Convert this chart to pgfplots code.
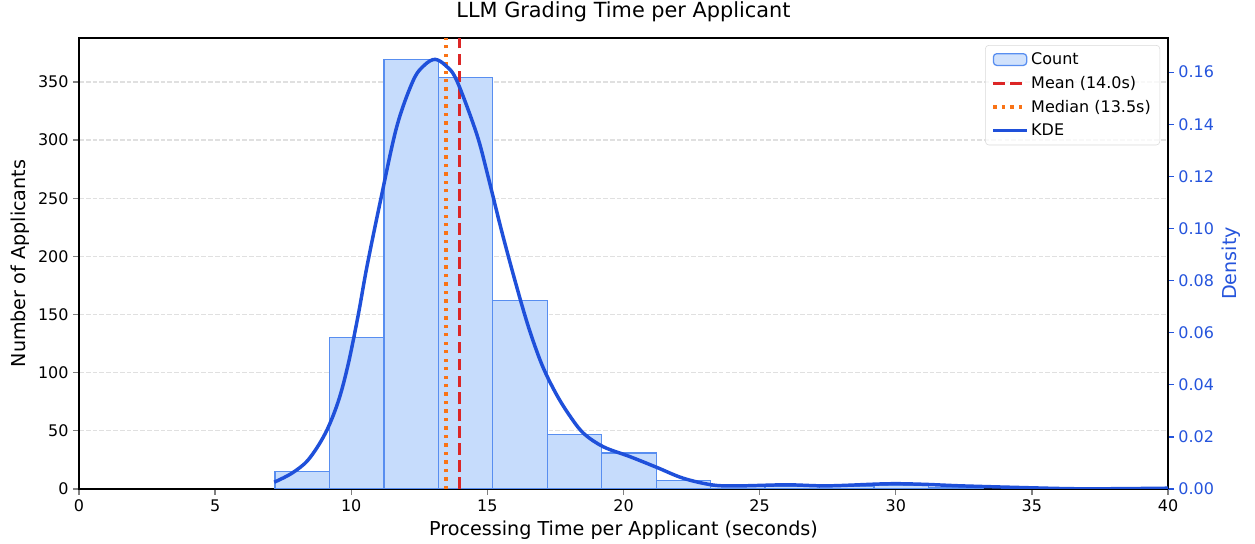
\documentclass[border=0pt]{standalone}
\usepackage{fontspec}
\setmainfont{DejaVu Sans}
\usepackage{pgfplots}
\pgfplotsset{compat=1.18}

\definecolor{barfill}{RGB}{198,220,252}
\definecolor{baredge}{RGB}{88,142,240}
\definecolor{kde}{RGB}{31,80,218}
\definecolor{meanred}{RGB}{220,38,38}
\definecolor{medorange}{RGB}{249,115,22}
\definecolor{dens}{RGB}{37,84,220}
\definecolor{gridc}{RGB}{224,224,224}

\begin{document}
\begin{tikzpicture}
\pgfplotsset{
  common/.style={
    scale only axis, width=784.1pt, height=324.7pt,
    xmin=0, xmax=40,
    tick align=outside, major tick length=4pt,
    tick style={line width=0.9pt},
    axis line style={line width=0.9pt},
    tick label style={font=\fontsize{11.5}{13}\selectfont},
    label style={font=\fontsize{13.8}{16}\selectfont},
    /pgf/number format/assume math mode=true,
  }
}
\begin{axis}[common, name=ax,
  ymin=0, ymax=387.8,
  xtick={0,5,...,40}, ytick={0,50,...,350},
  xtick pos=bottom, ytick pos=left,
  ymajorgrids, grid style={gridc, dash pattern=on 3.4pt off 1.5pt, line width=0.9pt},
  xlabel={Processing Time per Applicant (seconds)},
  ylabel={Number of Applicants},
  xlabel style={at={(axis description cs:0.5,-0.0909)}, anchor=center},
  ylabel style={at={(axis description cs:-0.0542,0.5)}, anchor=center},
]
\addplot[ybar interval, fill=barfill, draw=baredge, line width=0.9pt] coordinates {
  (7.2,15) (9.2,130) (11.2,369) (13.2,354) (15.2,162) (17.2,47) (19.2,31)
  (21.2,7) (23.2,2) (25.2,2) (27.2,2) (29.2,3) (31.2,1) (33.2,0)
};
\addplot[meanred, line width=2.3pt, dash pattern=on 8.5pt off 3.7pt] coordinates {(13.99,0) (13.99,387.8)};
\addplot[medorange, line width=2.4pt, dash pattern=on 2.4pt off 3.7pt] coordinates {(13.48,0) (13.48,387.8)};
\end{axis}

\begin{axis}[common,
  ymin=0, ymax=0.1731,
  axis x line=none, axis y line*=right,
  ytick={0,0.02,0.04,0.06,0.08,0.10,0.12,0.14,0.16},
  ytick style={dens, line width=0.9pt},
  yticklabel style={dens, /pgf/number format/.cd, fixed, fixed zerofill, precision=2},
  ylabel={Density},
  ylabel style={dens, at={(axis description cs:1.0579,0.5)}, anchor=center, rotate=0},
  legend style={at={(axis description cs:0.9927,0.9845)}, anchor=north east,
    draw=black!15, rounded corners=2.5pt, fill=white, fill opacity=0.8, text opacity=1,
    font=\fontsize{11.5}{13}\selectfont, inner xsep=4.5pt, inner ysep=3.5pt,
    row sep=2.8pt, /tikz/every even column/.append style={column sep=0pt}},
  legend cell align=left,
]
\addlegendimage{legend image code/.code={\draw[fill=barfill, draw=baredge, line width=0.9pt] (0pt,-4pt) rectangle (24pt,4.5pt);}}
\addlegendentry{Count}
\addlegendimage{legend image code/.code={\draw[meanred, line width=2.3pt, dash pattern=on 8.5pt off 3.7pt] (0pt,0pt) -- (24pt,0pt);}}
\addlegendentry{Mean (14.0s)}
\addlegendimage{legend image code/.code={\draw[medorange, line width=2.4pt, dash pattern=on 2.4pt off 3.7pt] (0pt,0pt) -- (24pt,0pt);}}
\addlegendentry{Median (13.5s)}
\addplot[kde, line width=2.5pt, smooth, tension=0.55,
  legend image code/.code={\draw[kde, line width=2.5pt] (0pt,0pt) -- (24pt,0pt);}] coordinates {
  (7.17,0.0026) (7.81,0.0060) (8.42,0.0112) (9.04,0.0212) (9.52,0.0335)
  (9.89,0.0480) (10.26,0.0670) (10.57,0.0850) (11.06,0.1100) (11.67,0.1390)
  (12.28,0.1569) (12.70,0.1628) (13.08,0.1649) (13.47,0.1625) (13.87,0.1569)
  (14.60,0.1365) (15.00,0.1210) (15.50,0.1000) (16.00,0.0805) (16.50,0.0625)
  (17.00,0.0478) (17.50,0.0370) (18.00,0.0285) (18.53,0.0214) (19.26,0.0162)
  (20.24,0.0124) (21.22,0.0083) (22.20,0.0041) (23.30,0.0015) (24.30,0.0012)
  (26.00,0.0016) (27.50,0.0012) (29.70,0.0020) (31.00,0.0018) (32.40,0.0012)
  (34.80,0.0005) (36.50,0.0001) (38.00,0.0001) (40.00,0.0003)
};
\addlegendentry{KDE}
\end{axis}
\node[font=\fontsize{15}{18}\selectfont, anchor=center] at ([yshift=18.7pt]ax.north) {LLM Grading Time per Applicant};
\pgfresetboundingbox
\path[use as bounding box] ([shift={(-56.88pt,-39.6pt)}]ax.south west) rectangle ([shift={(62.64pt,27.36pt)}]ax.north east);
\end{tikzpicture}
\end{document}
